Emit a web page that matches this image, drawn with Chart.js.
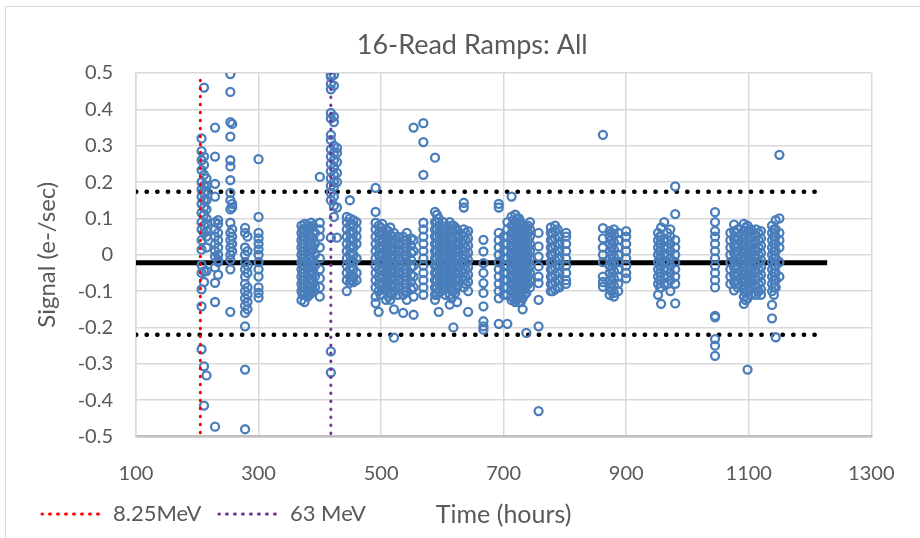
<!DOCTYPE html>
<html>
<head>
<meta charset="utf-8">
<script src="https://cdn.jsdelivr.net/npm/chart.js@4.4.0/dist/chart.umd.min.js"></script>
<style>
  html, body { margin: 0; padding: 0; background: #fff; }
  #wrap { width: 920px; height: 538px; position: relative; }
</style>
</head>
<body>
<div id="wrap"><canvas id="chart"></canvas></div>
<script>
// values
const chartTitle = '16-Read Ramps: All';
const xTitle = 'Time (hours)';
const yTitle = 'Signal (e-/sec)';
const xTicks = [100, 300, 500, 700, 900, 1100, 1300];
const yTicks = [-0.5, -0.4, -0.3, -0.2, -0.1, 0, 0.1, 0.2, 0.3, 0.4, 0.5];

// one column of readings per time (hours)
const times = [
  207, 211, 215, 229, 234, 254, 257, 278, 282, 300,
  370, 375, 380, 386, 392, 400, 418, 423, 428,
  444, 449, 455, 460, 491, 496, 502, 508, 515, 521, 527,
  536, 542, 549, 553, 569, 588, 594, 602, 612, 618, 624, 635, 642, 667,
  692, 700, 706, 713, 719, 725, 731, 737, 743, 757,
  777, 784, 791, 802, 862, 873, 880, 887, 900,
  952, 957, 962, 972, 980, 1045, 1070, 1076, 1082,
  1092, 1098, 1104, 1112, 1120, 1138, 1144, 1150,
  // extra columns inside the dense blocks
  372, 383, 389, 452, 499, 512, 518, 539, 591, 598, 605, 615, 621, 638,
  716, 722, 728, 734, 740, 780, 788, 876, 955, 967, 1079, 1095, 1101, 1116, 1141
];
const signals = [
  [0.32, 0.285, 0.26, 0.233, 0.2, 0.18, 0.16, 0.14, 0.115, 0.09, 0.07, 0.04, 0.014, -0.028, -0.05, -0.095, -0.142, -0.26],
  [0.46, 0.27, 0.247, 0.22, 0.19, 0.17, 0.15, 0.13, 0.11, 0.08, 0.06, -0.046, -0.075, -0.307, -0.415],
  [0.21, 0.19, 0.175, 0.15, 0.125, 0.1, 0.085, 0.065, 0.05, 0.02, -0.045, -0.332],
  [0.35, 0.27, 0.195, 0.16, 0.09, 0.07, 0.05, 0.03, 0.01, -0.005, -0.035, -0.077, -0.13, -0.473],
  [0.095, 0.085, 0.06, 0.04, 0.02, 0.0, -0.015, -0.02, -0.055],
  [0.497, 0.448, 0.365, 0.325, 0.26, 0.243, 0.205, 0.17, 0.15, 0.125, 0.088, 0.06, 0.04, 0.02, 0.0, -0.014, -0.04, -0.157],
  [0.36, 0.14, 0.13, 0.07, 0.05, 0.03, 0.01],
  [0.074, 0.06, 0.02, 0.0, -0.02, -0.04, -0.06, -0.08, -0.1, -0.12, -0.14, -0.16, -0.197, -0.316, -0.48],
  [0.05, 0.01, -0.03, -0.05, -0.09, -0.11, -0.13, -0.15],
  [0.263, 0.104, 0.06, 0.045, 0.03, 0.015, 0.0, -0.02, -0.04, -0.06, -0.09, -0.105, -0.118],
  [0.08, 0.06, 0.04, 0.02, 0.0, -0.02, -0.04, -0.06, -0.08, -0.1, -0.125],
  [0.085, 0.07, 0.05, 0.03, 0.01, -0.01, -0.03, -0.05, -0.07, -0.09, -0.11, -0.13],
  [0.08, 0.06, 0.04, 0.02, 0.0, -0.02, -0.04, -0.06, -0.08, -0.1, -0.115],
  [0.088, 0.075, 0.05, 0.03, 0.01, -0.01, -0.03, -0.05, -0.07, -0.09, -0.105],
  [0.06, 0.03, 0.0, -0.03, -0.06, -0.09],
  [0.214, 0.088, 0.07, 0.05, 0.02, -0.01, -0.04, -0.065, -0.09, -0.115],
  [0.495, 0.49, 0.47, 0.455, 0.39, 0.375, 0.33, 0.316, 0.29, 0.27, 0.25, 0.23, 0.21, 0.19, 0.17, 0.15, 0.047, -0.266, -0.324],
  [0.495, 0.465, 0.38, 0.365, 0.3, 0.28, 0.26, 0.24, 0.22, 0.2, 0.187, 0.16, 0.135, 0.104],
  [0.294, 0.28, 0.255, 0.225, 0.2, 0.13, 0.047],
  [0.104, 0.09, 0.07, 0.05, 0.03, 0.01, -0.01, -0.03, -0.05, -0.07, -0.1],
  [0.15, 0.1, 0.08, 0.06, 0.04, 0.02, 0.0, -0.02, -0.04, -0.06, -0.077],
  [0.095, 0.08, 0.06, 0.04, 0.02, 0.0, -0.02, -0.04, -0.06, -0.075],
  [0.09, 0.07, 0.05, 0.03, -0.01, -0.05, -0.07],
  [0.184, 0.118, 0.088, 0.07, 0.05, 0.03, 0.01, -0.01, -0.03, -0.05, -0.07, -0.09, -0.115, -0.133],
  [0.08, 0.06, 0.04, 0.02, 0.0, -0.02, -0.04, -0.06, -0.08, -0.1, -0.157],
  [0.085, 0.065, 0.045, 0.025, 0.005, -0.015, -0.035, -0.055, -0.075, -0.095],
  [0.07, 0.05, 0.03, 0.01, -0.01, -0.03, -0.05, -0.07, -0.09, -0.124],
  [0.075, 0.055, 0.035, 0.015, -0.005, -0.025, -0.045, -0.065, -0.085, -0.105, -0.124],
  [0.06, 0.04, 0.02, 0.0, -0.02, -0.04, -0.06, -0.08, -0.1, -0.15, -0.228],
  [0.05, 0.03, 0.01, -0.01, -0.03, -0.05, -0.07, -0.09, -0.11],
  [0.05, 0.03, 0.01, -0.01, -0.03, -0.05, -0.07, -0.09, -0.11, -0.16],
  [0.06, 0.04, 0.02, 0.0, -0.02, -0.04, -0.06, -0.08, -0.1, -0.124],
  [0.045, 0.025, 0.005, -0.015, -0.035, -0.055, -0.075, -0.095],
  [0.35, 0.04, 0.01, -0.03, -0.06, -0.09, -0.115, -0.165],
  [0.362, 0.31, 0.22, 0.088, 0.07, 0.05, 0.03, 0.01, -0.01, -0.03, -0.05, -0.07, -0.09, -0.11],
  [0.267, 0.118, 0.09, 0.07, 0.05, 0.03, 0.01, -0.01, -0.03, -0.05, -0.07, -0.09, -0.11, -0.124],
  [0.1, 0.08, 0.06, 0.04, 0.02, 0.0, -0.02, -0.04, -0.06, -0.08, -0.1, -0.157],
  [0.09, 0.07, 0.05, 0.03, 0.01, -0.01, -0.03, -0.05, -0.07, -0.09],
  [0.09, 0.07, 0.05, 0.03, 0.01, -0.01, -0.03, -0.05, -0.07, -0.09, -0.11, -0.137],
  [0.08, 0.06, 0.04, 0.02, 0.0, -0.02, -0.04, -0.06, -0.08, -0.1, -0.2],
  [0.07, 0.05, 0.03, 0.01, -0.01, -0.03, -0.05, -0.07, -0.09, -0.13],
  [0.143, 0.13, 0.07, 0.05, 0.03, 0.01, -0.01, -0.03, -0.05, -0.07, -0.09],
  [0.065, 0.045, 0.025, 0.005, -0.015, -0.035, -0.055, -0.075, -0.1, -0.157],
  [0.041, 0.009, -0.023, -0.05, -0.078, -0.105, -0.142, -0.183, -0.197, -0.206],
  [0.14, 0.13, 0.06, 0.04, 0.02, 0.0, -0.02, -0.04, -0.06, -0.08, -0.1, -0.12, -0.19],
  [0.05, 0.03, 0.01, -0.01, -0.03, -0.05, -0.07, -0.09, -0.11],
  [0.09, 0.07, 0.05, 0.03, 0.01, -0.01, -0.03, -0.05, -0.07, -0.09, -0.11, -0.19],
  [0.16, 0.105, 0.08, 0.06, 0.04, 0.02, 0.0, -0.02, -0.04, -0.06, -0.08, -0.1, -0.125],
  [0.11, 0.09, 0.07, 0.05, 0.03, 0.01, -0.01, -0.03, -0.05, -0.07, -0.09, -0.11, -0.13],
  [0.1, 0.085, 0.065, 0.045, 0.025, 0.005, -0.015, -0.035, -0.055, -0.075, -0.095, -0.115, -0.13],
  [0.08, 0.06, 0.04, 0.02, 0.0, -0.02, -0.04, -0.06, -0.08, -0.1, -0.12, -0.15],
  [0.075, 0.055, 0.035, 0.015, -0.005, -0.025, -0.045, -0.065, -0.085, -0.105, -0.215],
  [0.09, 0.07, 0.05, 0.03, 0.01, -0.01, -0.03, -0.05, -0.07, -0.09],
  [0.06, 0.023, -0.005, -0.032, -0.06, -0.078, -0.124, -0.197, -0.43],
  [0.075, 0.06, 0.04, 0.02, 0.0, -0.02, -0.04, -0.06, -0.08, -0.1],
  [0.08, 0.065, 0.045, 0.025, 0.005, -0.015, -0.035, -0.055, -0.075, -0.095],
  [0.05, 0.03, 0.01, -0.01, -0.03, -0.05, -0.07, -0.09],
  [0.06, 0.05, 0.03, 0.01, -0.01, -0.03, -0.05, -0.07, -0.08],
  [0.33, 0.073, 0.045, 0.02, 0.0, -0.02, -0.06, -0.075, -0.088],
  [0.065, 0.05, 0.03, 0.01, -0.01, -0.03, -0.05, -0.07, -0.09, -0.11],
  [0.07, 0.055, 0.035, 0.015, -0.005, -0.025, -0.045, -0.065, -0.085, -0.105, -0.115],
  [0.06, 0.04, 0.02, 0.0, -0.02, -0.04, -0.06, -0.08, -0.1],
  [0.065, 0.05, 0.03, 0.01, -0.01, -0.03, -0.05, -0.065],
  [0.06, 0.04, 0.02, 0.0, -0.02, -0.04, -0.06, -0.08, -0.11],
  [0.075, 0.05, 0.03, 0.01, -0.01, -0.03, -0.05, -0.07, -0.09, -0.135],
  [0.09, 0.04, 0.02, 0.0, -0.02, -0.04, -0.06, -0.08],
  [0.07, 0.05, 0.03, 0.01, -0.01, -0.03, -0.05, -0.07, -0.1],
  [0.188, 0.112, 0.04, 0.02, 0.0, -0.02, -0.04, -0.06, -0.08, -0.134],
  [0.117, 0.09, 0.065, 0.05, 0.03, 0.01, -0.01, -0.03, -0.05, -0.07, -0.09, -0.168, -0.172, -0.232, -0.25, -0.278],
  [0.06, 0.04, 0.02, 0.0, -0.02, -0.04, -0.06, -0.08],
  [0.083, 0.065, 0.045, 0.025, 0.005, -0.015, -0.035, -0.055, -0.075, -0.098],
  [0.07, 0.05, 0.03, 0.01, -0.01, -0.03, -0.05, -0.07, -0.09],
  [0.085, 0.065, 0.045, 0.025, 0.005, -0.015, -0.035, -0.055, -0.075, -0.095, -0.115, -0.135],
  [0.08, 0.06, 0.04, 0.02, 0.0, -0.02, -0.04, -0.06, -0.08, -0.1, -0.12, -0.316],
  [0.07, 0.05, 0.03, 0.01, -0.01, -0.03, -0.05, -0.07, -0.09, -0.11],
  [0.07, 0.05, 0.03, 0.01, -0.01, -0.03, -0.05, -0.07, -0.09, -0.11],
  [0.065, 0.045, 0.025, 0.005, -0.015, -0.035, -0.055, -0.075, -0.095, -0.11],
  [0.08, 0.06, 0.04, 0.02, 0.0, -0.02, -0.04, -0.06, -0.08, -0.1, -0.138, -0.175],
  [0.095, 0.07, 0.05, 0.03, 0.01, -0.01, -0.03, -0.05, -0.07, -0.09, -0.227],
  [0.275, 0.1, 0.06, 0.04, 0.02, -0.02, -0.06],
  // extra columns
  [0.07, 0.05, 0.03, 0.01, -0.01, -0.03, -0.05, -0.07, -0.09, -0.11],
  [0.07, 0.05, 0.03, 0.01, -0.01, -0.03, -0.05, -0.07, -0.09, -0.11],
  [0.08, 0.045, 0.015, -0.015, -0.045, -0.075, -0.1],
  [0.085, 0.065, 0.045, 0.025, 0.005, -0.015, -0.035, -0.055, -0.07],
  [0.075, 0.055, 0.035, 0.015, -0.005, -0.025, -0.045, -0.065, -0.085, -0.11],
  [0.065, 0.045, 0.025, 0.005, -0.015, -0.035, -0.055, -0.075, -0.095, -0.115],
  [0.05, 0.03, 0.01, -0.01, -0.03, -0.05, -0.07, -0.09, -0.11],
  [0.04, 0.02, 0.0, -0.02, -0.04, -0.06, -0.08, -0.1],
  [0.11, 0.09, 0.07, 0.05, 0.03, 0.01, -0.01, -0.03, -0.05, -0.07, -0.09, -0.11],
  [0.08, 0.06, 0.04, 0.02, 0.0, -0.02, -0.04, -0.06, -0.08, -0.1],
  [0.07, 0.05, 0.03, 0.01, -0.01, -0.03, -0.05, -0.07, -0.09, -0.11],
  [0.08, 0.06, 0.04, 0.02, 0.0, -0.02, -0.04, -0.06, -0.08, -0.1, -0.12],
  [0.075, 0.055, 0.035, 0.015, -0.005, -0.025, -0.045, -0.065, -0.085, -0.105],
  [0.06, 0.04, 0.02, 0.0, -0.02, -0.04, -0.06, -0.08],
  [0.095, 0.075, 0.055, 0.035, 0.015, -0.005, -0.025, -0.045, -0.065, -0.085, -0.105, -0.12],
  [0.1, 0.08, 0.06, 0.04, 0.02, 0.0, -0.02, -0.04, -0.06, -0.08, -0.1, -0.12],
  [0.09, 0.07, 0.05, 0.03, 0.01, -0.01, -0.03, -0.05, -0.07, -0.09, -0.11, -0.13],
  [0.07, 0.05, 0.03, 0.01, -0.01, -0.03, -0.05, -0.07, -0.09, -0.11],
  [0.08, 0.06, 0.04, 0.02, 0.0, -0.02, -0.04, -0.06, -0.08],
  [0.06, 0.04, 0.02, 0.0, -0.02, -0.04, -0.06, -0.08, -0.1],
  [0.07, 0.05, 0.03, 0.01, -0.01, -0.03, -0.05, -0.07, -0.09],
  [0.06, 0.04, 0.02, 0.0, -0.02, -0.04, -0.06, -0.08, -0.1],
  [0.05, 0.03, 0.01, -0.01, -0.03, -0.05, -0.07, -0.09],
  [0.06, 0.04, 0.02, 0.0, -0.02, -0.04, -0.06, -0.08],
  [0.06, 0.04, 0.02, 0.0, -0.02, -0.04, -0.06, -0.08],
  [0.075, 0.055, 0.035, 0.015, -0.005, -0.025, -0.045, -0.065, -0.085, -0.105, -0.125],
  [0.065, 0.045, 0.025, 0.005, -0.015, -0.035, -0.055, -0.075, -0.095],
  [0.06, 0.04, 0.02, 0.0, -0.02, -0.04, -0.06, -0.08, -0.1],
  [0.07, 0.05, 0.03, 0.01, -0.01, -0.03, -0.05, -0.07, -0.09, -0.11]
];

// mean and +/- limits, drawn across the run
const meanSpan = [100, 1228];
const limitSpan = [100, 1222];
const meanLevel = -0.022;
const upperLimit = 0.173;
const lowerLimit = -0.22;

// proton beam markers
const beamLabels = ['8.25MeV', '63 MeV'];
const beamTimes = [205, 418];
const beamTops = [0.48, 0.5];
const beamColors = ['#ff0000', '#7030a0'];

const FONT = 'Lato, "Open Sans", sans-serif';
const TEXT = '#595959';
const GRID = '#d9d9d9';

const points = [];
times.forEach((t, i) => signals[i].forEach(v => points.push({ x: t, y: v })));

const hLine = (span, y) => span.map(x => ({ x: x, y: y }));

const datasets = [
  {
    label: beamLabels[0],
    data: [{ x: beamTimes[0], y: beamTops[0] }, { x: beamTimes[0], y: -0.5 }],
    showLine: true, pointRadius: 0, borderColor: beamColors[0], backgroundColor: beamColors[0],
    borderWidth: 3, borderDash: [0.5, 7.5], borderCapStyle: 'round', order: 0
  },
  {
    label: beamLabels[1],
    data: [{ x: beamTimes[1], y: beamTops[1] }, { x: beamTimes[1], y: -0.5 }],
    showLine: true, pointRadius: 0, borderColor: beamColors[1], backgroundColor: beamColors[1],
    borderWidth: 3, borderDash: [0.5, 7.5], borderCapStyle: 'round', order: 0.5
  },
  {
    label: 'data',
    data: points,
    pointStyle: 'circle', pointRadius: 4, pointBorderWidth: 2.3,
    pointBorderColor: '#4a7ebb', pointBackgroundColor: 'rgba(0,0,0,0)',
    showLine: false, order: 1
  },
  {
    label: 'mean', data: hLine(meanSpan, meanLevel),
    showLine: true, pointRadius: 0, borderColor: '#000', borderWidth: 5, order: 2
  },
  {
    label: 'upper', data: hLine(limitSpan, upperLimit),
    showLine: true, pointRadius: 0, borderColor: '#000', borderWidth: 4.5,
    borderDash: [0.3, 10.3], borderCapStyle: 'round', order: 2
  },
  {
    label: 'lower', data: hLine(limitSpan, lowerLimit),
    showLine: true, pointRadius: 0, borderColor: '#000', borderWidth: 4.5,
    borderDash: [0.3, 10.3], borderCapStyle: 'round', order: 2
  }
];

// light frame round the whole chart, like the spreadsheet chart box
const framePlugin = {
  id: 'frame',
  beforeDraw(chart) {
    const c = chart.ctx;
    c.save();
    c.strokeStyle = GRID;
    c.lineWidth = 1;
    c.beginPath();
    c.moveTo(5.5, chart.height);
    c.lineTo(5.5, 6.5);
    c.lineTo(chart.width, 6.5);
    c.stroke();
    c.restore();
  }
};

new Chart(document.getElementById('chart'), {
  type: 'scatter',
  data: { datasets: datasets },
  plugins: [framePlugin],
  options: {
    responsive: true,
    maintainAspectRatio: false,
    animation: false,
    layout: { padding: { left: 24.5, right: 0, top: 0, bottom: 3 } },
    plugins: {
      tooltip: { enabled: false },
      title: {
        display: true, text: chartTitle, color: TEXT,
        font: { family: FONT, size: 27, weight: 'normal' },
        padding: { top: 28.8, bottom: 11.8 }
      },
      legend: {
        position: 'bottom', align: 'start',
        labels: {
          filter: item => beamLabels.includes(item.text),
          boxWidth: 60, boxHeight: 0,
          padding: 17.5, color: TEXT,
          font: { family: FONT, size: 22 }
        }
      }
    },
    scales: {
      x: {
        type: 'linear', min: 100, max: 1300,
        afterBuildTicks: s => { s.ticks = xTicks.map(v => ({ value: v })); },
        afterFit: s => { s.height = 49; },
        grid: { color: GRID, lineWidth: 1.5, drawTicks: false },
        border: { color: '#bfbfbf', width: 2.5 },
        ticks: {
          color: TEXT, padding: 25.5, maxRotation: 0,
          font: { family: FONT, size: 20 },
          callback: v => String(v)
        },
        title: {
          display: true, text: xTitle, color: TEXT,
          font: { family: FONT, size: 25 },
          padding: { top: 0, bottom: -44.4 }
        }
      },
      y: {
        type: 'linear', min: -0.5, max: 0.5,
        afterBuildTicks: s => { s.ticks = yTicks.map(v => ({ value: v })); },
        afterFit: s => { s.width = 111.5; },
        grid: { color: GRID, lineWidth: 1.5, drawTicks: false },
        border: { color: GRID, width: 1.5 },
        ticks: {
          color: TEXT, padding: 23,
          font: { family: FONT, size: 20 },
          callback: v => String(Math.round(v * 10) / 10)
        },
        title: {
          display: true, text: yTitle, color: TEXT,
          font: { family: FONT, size: 24 },
          padding: { top: 8.1, bottom: 0 }
        }
      },
      y2: {
        type: 'linear', position: 'right', display: true,
        grid: { display: false }, border: { display: false },
        ticks: { display: false },
        afterFit: s => { s.width = 40; }
      }
    }
  }
});
</script>
</body>
</html>
